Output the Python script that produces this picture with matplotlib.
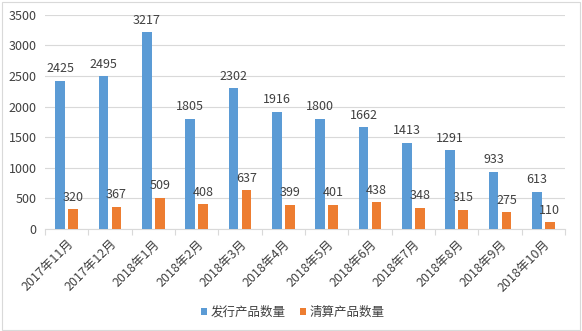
import matplotlib
matplotlib.use("Agg")
import matplotlib.pyplot as plt
import numpy as np
from matplotlib.patches import Rectangle

plt.rcParams['font.family'] = ['Noto Sans CJK SC', 'DejaVu Sans']

months = ["2017年11月", "2017年12月", "2018年1月", "2018年2月", "2018年3月", "2018年4月",
          "2018年5月", "2018年6月", "2018年7月", "2018年8月", "2018年9月", "2018年10月"]
issued = [2425, 2495, 3217, 1805, 2302, 1916, 1800, 1662, 1413, 1291, 933, 613]
cleared = [320, 367, 509, 408, 637, 399, 401, 438, 348, 315, 275, 110]
series_names = ["发行产品数量", "清算产品数量"]
yticks = [0, 500, 1000, 1500, 2000, 2500, 3000, 3500]

blue = "#5B9BD5"
orange = "#ED7D31"
text_col = "#404040"

fig = plt.figure(figsize=(5.82, 3.31), dpi=100)
ax = fig.add_axes([0.0773, 0.308, 0.8935, 0.647])

x = np.arange(len(months))
w = 0.22
off = 0.15
b1 = ax.bar(x - off, issued, w, color=blue, label=series_names[0], zorder=3)
b2 = ax.bar(x + off, cleared, w, color=orange, label=series_names[1], zorder=3)

for bars, vals in ((b1, issued), (b2, cleared)):
    for r, v in zip(bars, vals):
        ax.annotate(str(v), (r.get_x() + r.get_width() / 2, v), xytext=(0, 4),
                    textcoords="offset points", ha="center", va="bottom",
                    fontsize=9, color=text_col)

ax.set_xlim(-0.5, len(months) - 0.5)
ax.set_ylim(0, 3500)
ax.set_yticks(yticks)
ax.set_yticklabels([str(t) for t in yticks], fontsize=9, color=text_col)
ax.tick_params(axis='y', length=0, pad=6)
ax.grid(axis='y', color="#D9D9D9", linewidth=0.8, zorder=0)

ax.set_xticks(x)
ax.set_xticklabels(months, rotation=45, ha='right', rotation_mode='anchor',
                   fontsize=9, color=text_col)
ax.tick_params(axis='x', which='major', length=0, pad=6)
ax.set_xticks(np.arange(-0.5, len(months)), minor=True)
ax.tick_params(axis='x', which='minor', length=4, color="#D9D9D9", width=0.8)

for s in ("top", "right", "left"):
    ax.spines[s].set_visible(False)
ax.spines["bottom"].set_color("#D9D9D9")
ax.spines["bottom"].set_linewidth(0.8)

fig.legend(handles=[b1, b2], labels=series_names, loc="center", bbox_to_anchor=(0.503, 0.057),
           ncol=2, frameon=False, fontsize=9, handlelength=0.5, handleheight=0.5,
           handletextpad=0.25, columnspacing=1.2, labelcolor=text_col)

fig.patches.append(Rectangle((0.004, 0.004), 0.992, 0.99, transform=fig.transFigure,
                             fill=False, edgecolor="#D9D9D9", linewidth=0.8))

fig.savefig("out.png", dpi=100)
